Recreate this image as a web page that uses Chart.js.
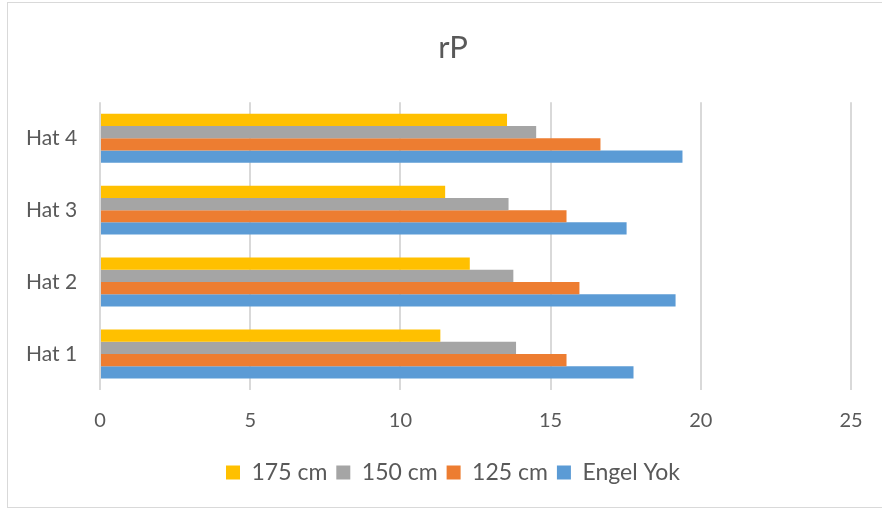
<!DOCTYPE html>
<html lang="tr">

<head>
    <meta charset="UTF-8">
    <title>rP</title>
    <script src="https://cdn.jsdelivr.net/npm/chart.js"></script>
    <style>
        html, body { margin: 0; padding: 0; background: #fff; overflow: hidden; }
        #wrap { position: relative; width: 882px; height: 512px; }
        #frame {
            position: absolute; left: 7px; top: 2px; width: 884px; height: 506px;
            border: 1px solid #d9d9d9; box-sizing: border-box; pointer-events: none;
        }
    </style>
</head>

<body>
    <div id="wrap">
        <canvas id="barChart" width="882" height="512"></canvas>
        <div id="frame"></div>
    </div>

    <script>
        // Categories (Hat 1 at the bottom)
        const labels = ['Hat 1', 'Hat 2', 'Hat 3', 'Hat 4'];

        // Series values
        const cm175 = [11.33, 12.31, 11.49, 13.55];
        const cm150 = [13.85, 13.76, 13.60, 14.52];
        const cm125 = [15.53, 15.96, 15.53, 16.66];
        const engelYok = [17.76, 19.16, 17.53, 19.39];

        // x axis ticks
        const xTicks = [0, 5, 10, 15, 20, 25];

        const textColor = '#595959';
        const gridColor = '#d9d9d9';
        const fontFamily = 'Lato, "Open Sans", sans-serif';

        const data = {
            labels: labels,
            datasets: [
                { label: '175 cm', data: cm175, backgroundColor: '#FFC000' },
                { label: '150 cm', data: cm150, backgroundColor: '#A5A5A5' },
                { label: '125 cm', data: cm125, backgroundColor: '#ED7D31' },
                { label: 'Engel Yok', data: engelYok, backgroundColor: '#5B9BD5' }
            ]
        };

        const config = {
            type: 'bar',
            data: data,
            options: {
                indexAxis: 'y',
                responsive: false,
                animation: false,
                datasets: {
                    bar: { categoryPercentage: 0.68, barPercentage: 1.0 }
                },
                layout: { padding: { left: 55, right: 31, top: 0, bottom: 18 } },
                plugins: {
                    title: {
                        display: true,
                        text: 'rP',
                        color: textColor,
                        font: { family: fontFamily, size: 31, weight: 'normal' },
                        padding: { top: 29, bottom: 36 }
                    },
                    legend: {
                        position: 'bottom',
                        labels: {
                            color: textColor,
                            font: { family: fontFamily, size: 23 },
                            boxWidth: 14,
                            boxHeight: 14,
                            padding: 9
                        }
                    },
                    tooltip: { enabled: false }
                },
                scales: {
                    x: {
                        min: 0,
                        max: 25,
                        afterBuildTicks: (scale) => { scale.ticks = xTicks.map(v => ({ value: v })); },
                        grid: { color: gridColor, lineWidth: 2, drawTicks: false },
                        border: { display: false },
                        ticks: {
                            color: textColor,
                            font: { family: fontFamily, size: 20 },
                            padding: 19
                        }
                    },
                    y: {
                        reverse: true,
                        grid: { display: false, drawTicks: false },
                        border: { display: false },
                        ticks: {
                            color: textColor,
                            font: { family: fontFamily, size: 21 },
                            // mirrored so the labels are not clipped to the narrow axis box
                            mirror: true,
                            crossAlign: 'near',
                            padding: -74
                        },
                        afterFit: (scale) => { scale.width = 45; }
                    }
                }
            }
        };

        new Chart(document.getElementById('barChart'), config);
    </script>
</body>

</html>
